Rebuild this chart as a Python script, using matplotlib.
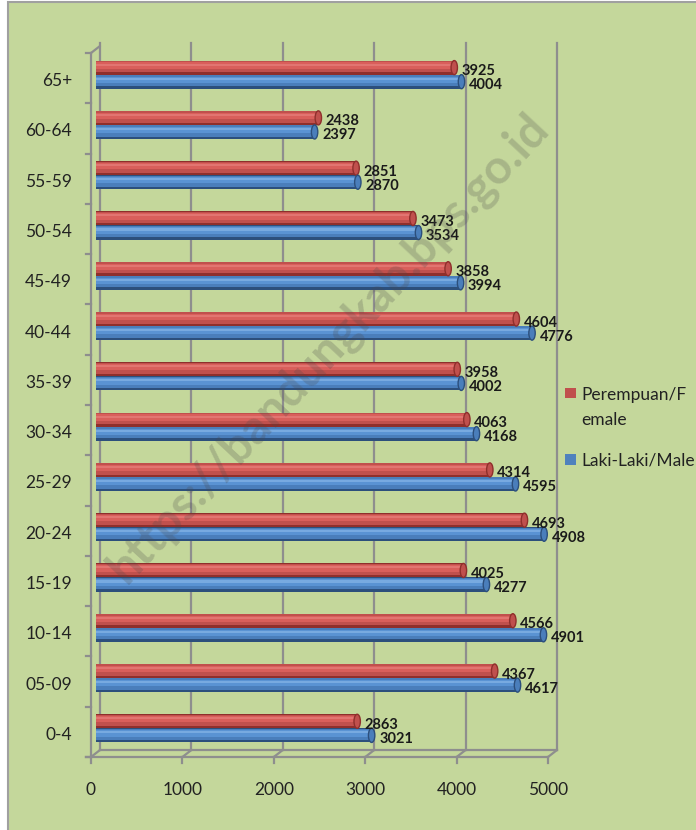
import matplotlib.pyplot as plt
import matplotlib.transforms as mtrans
from matplotlib.patches import Rectangle, Ellipse

ages = ["0-4", "05-09", "10-14", "15-19", "20-24", "25-29", "30-34",
        "35-39", "40-44", "45-49", "50-54", "55-59", "60-64", "65+"]
male = [3021, 4617, 4901, 4277, 4908, 4595, 4168, 4002, 4776, 3994, 3534, 2870, 2397, 4004]
female = [2863, 4367, 4566, 4025, 4693, 4314, 4063, 3958, 4604, 3858, 3473, 2851, 2438, 3925]
x_ticks = [0, 1000, 2000, 3000, 4000, 5000]
labels = ["Perempuan/F\nemale", "Laki-Laki/Male"]

W, H = 696, 830
BG = "#c4d79b"
GRID = "#8e8e8e"
plt.rcParams["font.family"] = ["Lato", "DejaVu Sans"]

fig = plt.figure(figsize=(W / 100, H / 100), dpi=100, facecolor="white")
fig.patches.append(Rectangle((7.5 / W, -0.01), 1.1, (H - 2.5) / H + 0.01,
                             transform=fig.transFigure, facecolor=BG,
                             edgecolor="#a0a0a0", linewidth=1.5, zorder=-5))

# axes = middle depth of the 3d box
left, right, top, bottom = 95.5, 552.5, 49.5, 753.5
ax = fig.add_axes([left / W, (H - bottom) / H, (right - left) / W, (bottom - top) / H])
ax.set_xlim(0, 5000)
ax.set_ylim(-0.5, 13.5)
ax.axis("off")

def shifted(dx, dy):
    return ax.transData + mtrans.ScaledTranslation(dx / 100, dy / 100, fig.dpi_scale_trans)

front = shifted(-4.5, -3.5)
back = shifted(4.5, 3.5)
lw = 1.6

# back wall gridlines
for v in x_ticks:
    ax.plot([v, v], [-0.5, 13.55], color=GRID, lw=lw, transform=back, clip_on=False, zorder=1)
# floor
ax.plot([0, 5000], [-0.5, -0.5], color=GRID, lw=lw, transform=back, clip_on=False, zorder=1)
ax.plot([-60, 5000], [-0.5, -0.5], color=GRID, lw=lw, transform=front, clip_on=False, zorder=1)
for v in x_ticks:
    ax.annotate("", xy=(v, -0.5), xytext=(v, -0.5), xycoords=back, textcoords=front,
                arrowprops=dict(arrowstyle="-", color=GRID, lw=lw, shrinkA=0, shrinkB=0))
    ax.plot([v, v], [-0.5, -0.5 - 6 / 50.3], color=GRID, lw=lw, transform=front, clip_on=False)
# left wall
ax.plot([0, 0], [-0.5, 13.5], color=GRID, lw=lw, transform=front, clip_on=False, zorder=1)
ax.annotate("", xy=(0, 13.5), xytext=(0, 13.5), xycoords=back, textcoords=front,
            arrowprops=dict(arrowstyle="-", color=GRID, lw=lw, shrinkA=0, shrinkB=0))
for k in range(15):
    ax.plot([-60, 0], [k - 0.5, k - 0.5], color=GRID, lw=lw, transform=front, clip_on=False)

# cylinder-like bars
bh = 0.28
styles = [
    (female, 0.14, ["#8f2f2c", "#c0504d", "#d95f5b", "#e27571"]),
    (male, -0.14, ["#2c4f7c", "#4a7ebb", "#5a93d3", "#78aae0"]),
]
for vals, off, cols in styles:
    ys = [i + off for i in range(len(ages))]
    ax.barh(ys, vals, height=bh, color=cols[0], zorder=3)
    ax.barh([y + 0.02 for y in ys], vals, height=bh * 0.8, color=cols[1], zorder=3)
    ax.barh([y + 0.04 for y in ys], vals, height=bh * 0.45, color=cols[2], zorder=3)
    ax.barh([y + 0.06 for y in ys], vals, height=bh * 0.15, color=cols[3], zorder=3)
    for y, v in zip(ys, vals):
        ax.add_patch(Ellipse((v, y), 70, bh, facecolor=cols[1], edgecolor=cols[0],
                             lw=1.0, zorder=4))
        ax.annotate(str(v), (v, y), xytext=(7.5, -3.5), textcoords="offset pixels",
                    ha="left", va="center", fontsize=10.5, fontweight="bold",
                    color="#1a1a1a", zorder=5)

# category labels
for i, a in enumerate(ages):
    ax.annotate(a, (0, i), xytext=(-23.5, -6.5), textcoords="offset pixels",
                ha="right", va="center", fontsize=12.5, color="#222222")
for v in x_ticks:
    ax.annotate(str(v), (v, -0.5), xytext=(-4.5, -36.5), textcoords="offset pixels",
                ha="center", va="center", fontsize=12.5, color="#222222")

# legend
for (txt, col, ty, sy) in [(labels[0], "#c0504d", 407.5, 393), (labels[1], "#4f81bd", 460, 460)]:
    fig.patches.append(Rectangle((565 / W, (H - sy - 5.5) / H), 11 / W, 11 / H,
                                 transform=fig.transFigure, facecolor=col, zorder=5))
    fig.text(581 / W, (H - ty) / H, txt, ha="left", va="center", fontsize=12.5,
             color="#222222", linespacing=1.7)

# watermark
fig.text(328 / W, (H - 348) / H, "https://bandungkab.bps.go.id", rotation=47,
         ha="center", va="center", fontsize=34, fontweight="bold",
         color="#4a4a4a", alpha=0.24)

fig.savefig("out.png", dpi=100, facecolor=fig.get_facecolor())
